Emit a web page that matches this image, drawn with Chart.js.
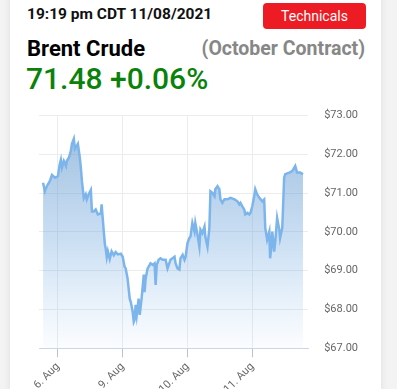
<!DOCTYPE html>
<html>
<head>
<meta charset="utf-8">
<script src="https://cdn.jsdelivr.net/npm/chart.js@4/dist/chart.umd.min.js"></script>
<style>
  html, body { margin: 0; padding: 0; }
  body { width: 397px; height: 389px; background: #f3f3f3; overflow: hidden; font-family: Roboto, sans-serif; position: relative; }
  .card { position: absolute; left: 10px; top: -10px; width: 371px; height: 410px; background: #fff; box-shadow: 0 0 8px rgba(0,0,0,0.08); }
  .stamp { position: absolute; left: 27px; top: 5px; font-size: 15.5px; font-weight: 700; color: #111; }
  .btn { position: absolute; left: 263px; top: 3px; width: 103px; height: 26px; background: #ed1c24; border-radius: 4px; color: #fff; font-size: 14px; line-height: 26px; text-align: center; }
  .name { position: absolute; left: 27px; top: 36px; font-size: 22px; font-weight: 700; color: #000; }
  .contract { position: absolute; right: 32px; top: 37px; font-size: 19.5px; font-weight: 700; color: #878787; }
  .price { position: absolute; left: 26px; top: 61px; font-size: 30px; font-weight: 500; color: #0a820a; }
  .chart { position: absolute; left: 26px; top: 93px; width: 348px; height: 306px; }
</style>
</head>
<body>
<div class="card"></div>
<div class="stamp">19:19 pm CDT 11/08/2021</div>
<div class="btn">Technicals</div>
<div class="name">Brent Crude</div>
<div class="contract">(October Contract)</div>
<div class="price">71.48 +0.06%</div>
<div class="chart"><canvas id="myChart"></canvas></div>
<script>
// trading hours from 6 Aug 00:00 (weekend collapsed), and prices
const hours = [
  -5.5, -4.8, -4.1, -3.0, -2.2, -1.1, 0, 0.7, 1.1, 1.5, 2.2, 3.0, 3.3, 4.1, 4.8, 5.2, 5.9, 6.3, 7.0, 7.4,
  8.1, 8.5, 8.9, 9.6, 10.3, 10.7, 11.4, 12.2, 12.6, 13.3, 14.0, 14.8, 15.9, 16.2, 16.6, 17.0, 17.4, 17.7,
  18.1, 18.5, 19.2, 19.9, 20.7, 21.4, 22.2, 23.3, 24.0, 24.7, 25.1, 25.8, 26.6, 27.0, 27.7, 28.1, 28.4,
  28.8, 29.2, 29.9, 30.3, 31.0, 31.8, 32.1, 32.5, 33.2, 34.0, 34.3, 35.1, 35.8, 36.2, 36.6, 37.3, 38.0,
  38.8, 39.9, 40.6, 41.7, 43.2, 43.6, 44.3, 45.0, 45.4, 46.2, 46.9, 47.3, 48.0, 48.7, 49.1, 49.8, 50.6,
  50.9, 51.7, 52.4, 52.8, 53.5, 54.3, 54.6, 55.4, 56.1, 56.5, 57.2, 58.0, 58.3, 59.1, 59.8, 60.2, 60.9,
  61.7, 62.8, 63.9, 65.4, 66.5, 67.2, 67.6, 68.3, 69.0, 69.4, 70.2, 70.9, 71.3, 72.0, 72.7, 73.1, 73.8,
  74.6, 75.7, 76.4, 76.8, 77.2, 77.5, 78.3, 78.6, 79.0, 79.4, 80.1, 80.5, 81.2, 82.0, 82.3, 83.1, 83.8,
  84.2, 85.7, 86.8, 87.9, 88.6, 89.7, 90.8
]
const prices = [
  71.27, 71.05, 71.18, 71.31, 71.47, 71.40, 71.44, 71.75, 71.86, 71.66, 71.83, 71.70, 71.83, 71.92, 72.09, 72.27, 72.40, 72.14, 72.22, 72.27,
  71.92, 71.66, 71.31, 70.87, 70.97, 70.84, 70.97, 71.08, 70.53, 70.53, 70.58, 70.45, 70.48, 70.71, 70.35, 70.01, 69.68, 69.57,
  69.35, 69.50, 69.30, 69.50, 69.40, 69.48, 69.42, 69.44, 69.36, 69.10, 69.06, 68.80, 68.28, 68.19, 67.94, 67.68, 67.73,
  68.12, 67.86, 68.28, 67.86, 68.28, 68.90, 68.45, 68.80, 69.05, 69.15, 69.19, 69.15, 69.19, 68.63, 69.15, 69.28, 69.32,
  69.28, 69.28, 69.06, 69.28, 69.36, 69.19, 69.06, 69.03, 69.32, 69.41, 69.28, 69.36, 69.71, 69.84, 69.88, 70.23, 70.01,
  70.23, 69.93, 69.62, 70.06, 69.97, 70.14, 69.88, 69.62, 70.10, 71.05, 71.01, 70.92, 71.10, 71.18, 71.10, 70.84, 70.75,
  70.84, 70.84, 70.88, 70.84, 70.79, 70.71, 70.75, 70.66, 70.58, 70.45, 70.49, 70.45, 70.49, 70.66, 70.92, 71.10, 70.97,
  70.88, 70.79, 70.84, 70.10, 69.93, 69.80, 70.01, 69.32, 69.58, 70.01, 69.49, 69.75, 70.36, 70.06, 69.84, 70.10, 71.40,
  71.49, 71.53, 71.57, 71.70, 71.53, 71.53, 71.49
]
const tickHours = [0, 24, 48, 72]
const tickLabels = ['6. Aug', '9. Aug', '10. Aug', '11. Aug']

const points = hours.map((h, i) => ({ x: h, y: prices[i] }))

const ctx = document.getElementById('myChart')
const myChart = new Chart(ctx, {
  type: 'line',
  data: {
    datasets: [{
      data: points,
      borderColor: '#7cb5ec',
      borderWidth: 2.5,
      pointRadius: 0,
      tension: 0,
      fill: 'start',
      backgroundColor: (c) => {
        const area = c.chart.chartArea
        if (!area) return 'rgba(124,181,236,0.4)'
        const g = c.chart.ctx.createLinearGradient(0, area.top, 0, area.bottom)
        g.addColorStop(0, 'rgba(69,130,190,0.55)')
        g.addColorStop(0.55, 'rgba(100,160,220,0.33)')
        g.addColorStop(1, 'rgba(124,181,236,0.03)')
        return g
      }
    }]
  },
  options: {
    responsive: true,
    maintainAspectRatio: false,
    animation: false,
    layout: { padding: { left: 13, right: 0, top: 6, bottom: 0 } },
    plugins: { legend: { display: false }, tooltip: { enabled: false } },
    scales: {
      x: {
        type: 'linear',
        min: -7,
        max: 92.7,
        afterBuildTicks: (axis) => { axis.ticks = tickHours.map(v => ({ value: v })) },
        ticks: {
          autoSkip: false,
          maxRotation: 45,
          minRotation: 45,
          color: '#666',
          font: { family: 'Roboto', size: 11 },
          callback: (v) => tickLabels[tickHours.indexOf(v)] || ''
        },
        grid: { color: '#ececec', tickColor: '#b8c2d4', tickLength: 9 },
        border: { color: '#ccd6eb', width: 1 }
      },
      y: {
        position: 'right',
        min: 67,
        max: 73,
        ticks: {
          stepSize: 1,
          padding: 16,
          color: '#666',
          font: { family: 'Roboto', size: 11 },
          callback: (v) => '$' + v.toFixed(2)
        },
        grid: { color: '#ececec', drawTicks: false },
        border: { display: false }
      }
    }
  }
})
</script>
</body>
</html>
